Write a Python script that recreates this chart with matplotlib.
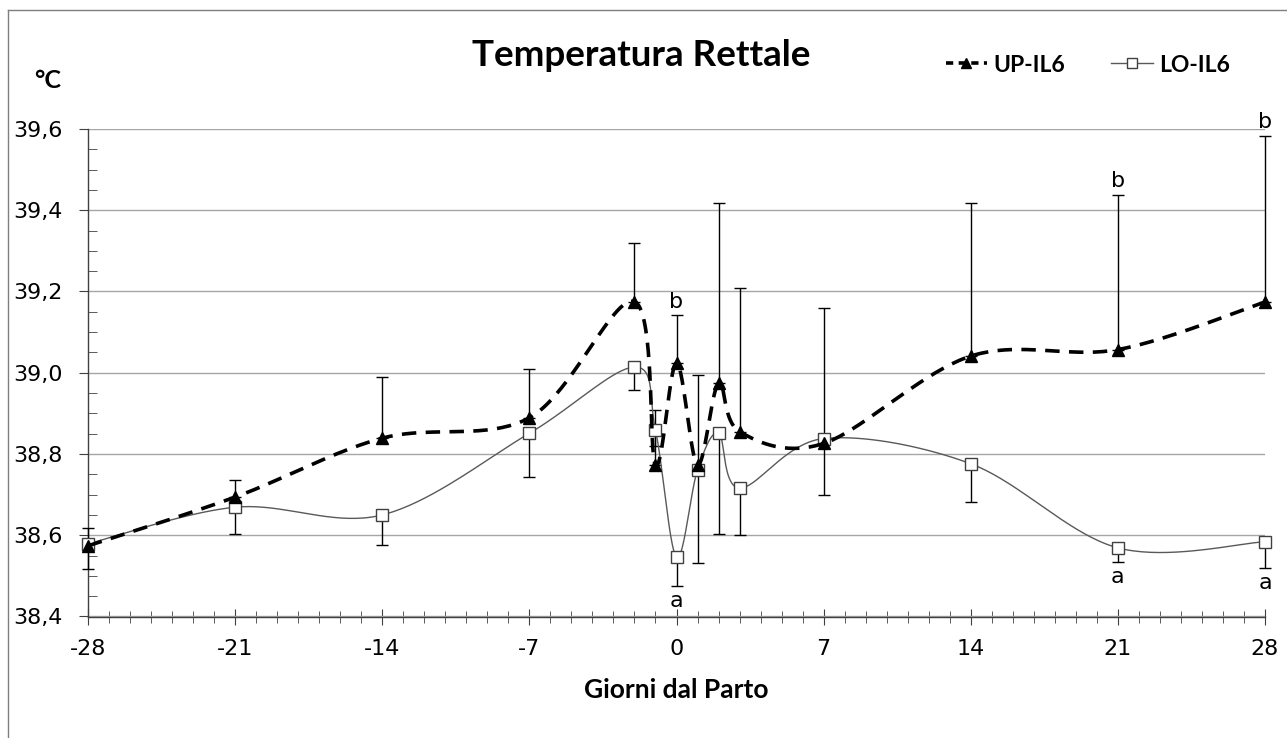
import numpy as np
import matplotlib
matplotlib.use('Agg')
import matplotlib.pyplot as plt
from matplotlib.ticker import MultipleLocator, FuncFormatter
from matplotlib.lines import Line2D

# giorni dal parto
days = [-28, -21, -14, -7, -2, -1, 0, 1, 2, 3, 7, 14, 21, 28]

up_il6 = [38.574, 38.694, 38.839, 38.889, 39.175, 38.773, 39.024,
          38.773, 38.974, 38.855, 38.826, 39.041, 39.057, 39.174]
up_err = [0.045, 0.042, 0.151, 0.120, 0.144, 0.135, 0.117,
          0.222, 0.443, 0.353, 0.334, 0.378, 0.380, 0.410]

lo_il6 = [38.579, 38.669, 38.650, 38.851, 39.014, 38.859, 38.546,
          38.761, 38.851, 38.716, 38.838, 38.776, 38.569, 38.584]
lo_err = [0.062, 0.067, 0.074, 0.107, 0.056, 0.040, 0.071,
          0.229, 0.249, 0.116, 0.138, 0.094, 0.035, 0.064]

up_letters = {0: 'b', 21: 'b', 28: 'b'}
lo_letters = {0: 'a', 21: 'a', 28: 'a'}

XS, YS = 21.0, 406.0   # approx px per unit, smoothing done in screen-like space


def smooth(x, y, n=40):
    # excel-like smoothed line (catmull-rom bezier)
    p = np.column_stack([np.asarray(x, float) * XS, np.asarray(y, float) * YS])
    out = []
    for i in range(len(p) - 1):
        p0 = p[i - 1] if i > 0 else p[i]
        p1, p2 = p[i], p[i + 1]
        p3 = p[i + 2] if i + 2 < len(p) else p[i + 1]
        c1 = p1 + (p2 - p0) / 6.0
        c2 = p2 - (p3 - p1) / 6.0
        t = np.linspace(0, 1, n)[:, None]
        seg = ((1 - t) ** 3) * p1 + 3 * ((1 - t) ** 2) * t * c1 + 3 * (1 - t) * t ** 2 * c2 + t ** 3 * p2
        out.append(seg if i == 0 else seg[1:])
    out = np.vstack(out)
    return out[:, 0] / XS, out[:, 1] / YS


fig = plt.figure(figsize=(12.87, 7.38), dpi=100)
ax = fig.add_axes([88 / 1287, 1 - 616.5 / 738, (1265 - 88) / 1287, (616.5 - 129) / 738])

ax.set_xlim(-28, 28)
ax.set_ylim(38.4, 39.6)

# gridlines
ax.yaxis.grid(True, color='#a6a6a6', lw=1.0)
ax.set_axisbelow(True)

# error bars: UP only upward, LO only downward
for vals, yerr in [(up_il6, [np.zeros(len(up_err)), up_err]),
                   (lo_il6, [lo_err, np.zeros(len(lo_err))])]:
    eb = ax.errorbar(days, vals, yerr=yerr, fmt='none', ecolor='black',
                     elinewidth=1.0, capsize=4, capthick=1.0, zorder=3)
    for art in eb.lines[1] + eb.lines[2]:
        art.set_clip_on(False)

sx, sy = smooth(days, lo_il6)
ax.plot(sx, sy, color='#595959', lw=1.0, zorder=4)
ax.plot(days, lo_il6, ls='none', marker='s', ms=8, mfc='white', mec='#404040', mew=1.0,
        zorder=5, clip_on=False)

sx, sy = smooth(days, up_il6)
ax.plot(sx, sy, color='black', lw=2.6, ls=(0, (4, 2.6)), zorder=6)
ax.plot(days, up_il6, ls='none', marker='^', ms=8, color='black', zorder=7, clip_on=False)

# lettere di significativita'
for d, lab in up_letters.items():
    i = days.index(d)
    ax.annotate(lab, (d, up_il6[i] + up_err[i]), xytext=(0, 10), textcoords='offset points',
                ha='center', va='center', fontsize=16, annotation_clip=False)
for d, lab in lo_letters.items():
    i = days.index(d)
    ax.annotate(lab, (d, lo_il6[i] - lo_err[i]), xytext=(0, -11), textcoords='offset points',
                ha='center', va='center', fontsize=16, annotation_clip=False)

# axes
for s in ['top', 'right']:
    ax.spines[s].set_visible(False)
for s in ['left', 'bottom']:
    ax.spines[s].set_color('#404040')
    ax.spines[s].set_linewidth(1.0)

ax.xaxis.set_major_locator(MultipleLocator(7))
ax.xaxis.set_minor_locator(MultipleLocator(1))
ax.yaxis.set_major_locator(MultipleLocator(0.2))
ax.yaxis.set_minor_locator(MultipleLocator(0.05))
ax.yaxis.set_major_formatter(FuncFormatter(lambda v, p: f'{v:.1f}'.replace('.', ',')))
ax.xaxis.set_major_formatter(FuncFormatter(lambda v, p: f'{v:.0f}'))

ax.tick_params(axis='x', which='major', direction='inout', length=12, color='#404040', pad=10, labelsize=16)
ax.tick_params(axis='x', which='minor', direction='inout', length=9, color='#404040')
ax.tick_params(axis='y', which='major', direction='out', length=6.5, color='#404040', pad=12, labelsize=16)
ax.tick_params(axis='y', which='minor', direction='in', length=6.5, color='#404040')

ax.set_xlabel('Giorni dal Parto', fontfamily='Lato', fontweight='bold', fontsize=19, labelpad=14)

fig.text(641 / 1287, 1 - 55 / 738, 'Temperatura Rettale', ha='center', va='center',
         fontfamily='Lato', fontweight='bold', fontsize=26.5)
fig.text(48 / 1287, 1 - 80 / 738, '°C', ha='center', va='center',
         fontfamily='Lato', fontweight='bold', fontsize=18)

h_up = Line2D([], [], color='black', lw=2.6, ls=(0, (2, 1.5)), marker='^', ms=7)
h_lo = Line2D([], [], color='#595959', lw=1.0, marker='s', ms=7, mfc='white', mec='#404040')
fig.legend([h_up, h_lo], ['UP-IL6', 'LO-IL6'], loc='center', bbox_to_anchor=(1088 / 1287, 1 - 65 / 738),
           ncol=2, frameon=False, handlelength=1.8, handletextpad=0.3, columnspacing=2.0,
           prop={'family': 'Lato', 'weight': 'bold', 'size': 16.5})

# bordo dell'area grafico
fig.add_artist(Line2D([8 / 1287, 1], [1 - 10 / 738, 1 - 10 / 738], color='#7f7f7f', lw=1.0))
fig.add_artist(Line2D([8 / 1287, 8 / 1287], [0, 1 - 10 / 738], color='#7f7f7f', lw=1.0))

fig.savefig('out.png', dpi=100)
